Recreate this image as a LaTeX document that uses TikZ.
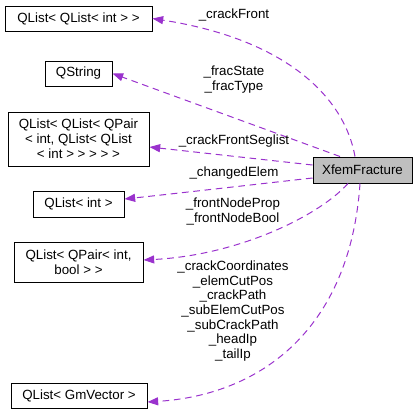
\documentclass[tikz,border=0pt]{standalone}
\usepackage{fontspec}
\setmainfont{Liberation Sans}
\usetikzlibrary{arrows.meta,calc}
\definecolor{edgepurple}{RGB}{154,50,205}
\definecolor{boxgray}{RGB}{191,191,191}

\begin{document}
\begin{tikzpicture}[x=0.75pt,y=0.75pt,yscale=-1,xscale=1,
  classbox/.style={draw=black,line width=0.75pt,inner sep=0pt,align=center,font=\fontsize{10pt}{11.25pt}\selectfont},
  uses/.style={draw=edgepurple,line width=0.75pt,dash pattern={on 5pt off 3.5pt},-{Triangle[length=8pt,width=6pt]}},
  lbl/.style={inner sep=0pt,align=center,font=\fontsize{10pt}{11pt}\selectfont}]
\useasboundingbox (0,0) rectangle (417,415);

% Class boxes
\node [classbox,minimum width=110.25pt,minimum height=18.75pt] (cf) at (78.5,18.5) {QList< QList< int > >};
\node [classbox,minimum width=50.25pt,minimum height=18.75pt] (qs) at (78.5,73.5) {QString};
\node [classbox,minimum width=105.75pt,minimum height=40.5pt] (seg) at (78.5,139) {QList< QList< QPair\\< int, QList< QList\\< int > > > > >};
\node [classbox,minimum width=68.25pt,minimum height=19.5pt] (qi) at (78.5,204) {QList< int >};
\node [classbox,minimum width=96.75pt,minimum height=30pt] (pr) at (78.5,262) {QList< QPair< int,\\bool > >};
\node [classbox,minimum width=102pt,minimum height=18.75pt] (gv) at (79,395.5) {QList< GmVector >};
\node [classbox,fill=boxgray,minimum width=74.25pt,minimum height=19.5pt] (xf) at (362.5,170) {XfemFracture};

% Member connectors
\draw [uses] ($(xf.north)+(-7.5,0)$) .. controls (345,100) and (290,40) .. (cf.east);
\draw [uses] ($(xf.north)+(-22.5,0)$) -- (qs.east);
\draw [uses] ($(xf.west)+(0,-5)$) -- ($(seg.east)+(0,8)$);
\draw [uses] ($(xf.west)+(0,8)$) .. controls (250,185) and (180,193) .. ($(qi.east)+(0,-5)$);
\draw [uses] ($(xf.south)+(-14.5,0)$) .. controls (320,215) and (240,255) .. ($(pr.east)+(0,-2)$);
\draw [uses] ($(xf.south)+(-2.5,0)$) .. controls (350,330) and (260,395) .. ($(gv.east)+(0,6.5)$);

% Text Node
\node [lbl] (lcf) at (234,15) {\_crackFront};
% Text Node
\node [lbl] (lqs) at (234,79.5) {\_fracState\\\_fracType};
% Text Node
\node [lbl] (lseg) at (234,141) {\_crackFrontSeglist};
% Text Node
\node [lbl] (lqi) at (234,173) {\_changedElem};
% Text Node
\node [lbl] (lpr) at (233,211.5) {\_frontNodeProp\\\_frontNodeBool};
% Text Node
\node [lbl] (lgv) at (233,311) {\_crackCoordinates\\\_elemCutPos\\\_crackPath\\\_subElemCutPos\\\_subCrackPath\\\_headIp\\\_tailIp};

\end{tikzpicture}
\end{document}
